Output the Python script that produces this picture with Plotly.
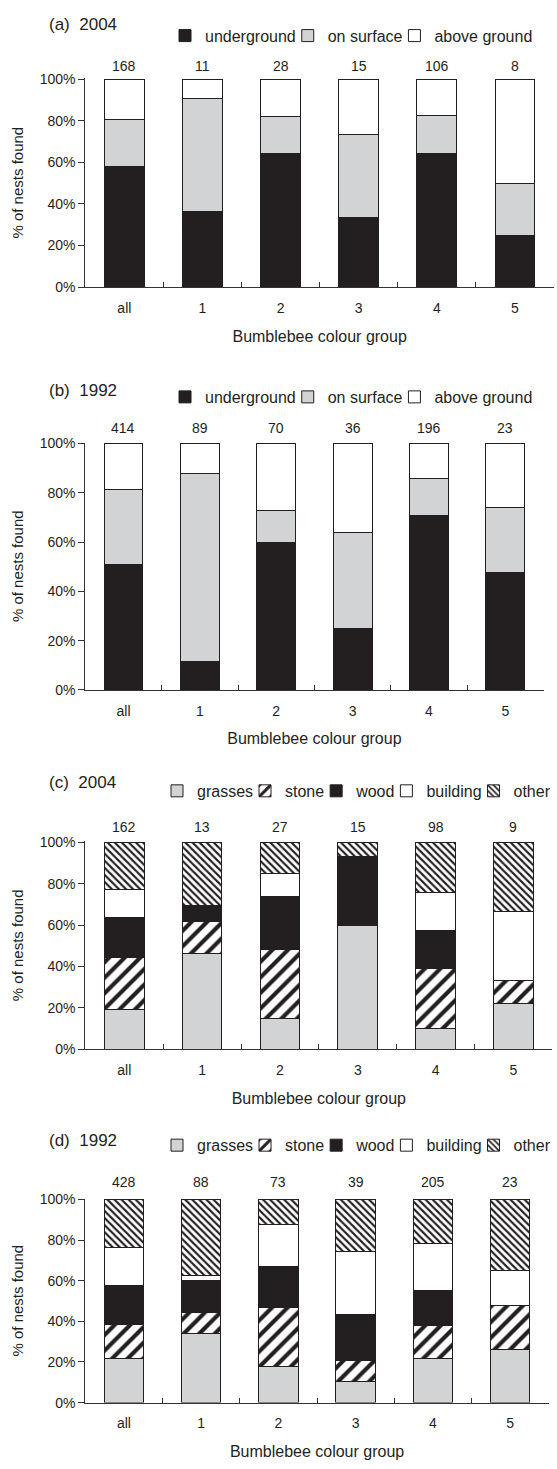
import plotly.graph_objects as go

W, H = 557, 1469

categories = ["all", "1", "2", "3", "4", "5"]

# Panel (a) 2004 - nest position (% of nests in each group)
a_counts = [168, 11, 28, 15, 106, 8]
a_underground = [57.8, 36.4, 64.3, 33.3, 64.2, 25.0]
a_on_surface = [22.6, 54.5, 17.9, 40.0, 18.4, 25.0]
a_above_ground = [19.6, 9.1, 17.8, 26.7, 17.4, 50.0]

# Panel (b) 1992 - nest position
b_counts = [414, 89, 70, 36, 196, 23]
b_underground = [51.1, 11.5, 60.0, 25.0, 70.9, 47.8]
b_on_surface = [30.2, 76.5, 12.9, 38.9, 14.8, 26.1]
b_above_ground = [18.7, 12.0, 27.1, 36.1, 14.3, 26.1]

# Panel (c) 2004 - nest location
c_counts = [162, 13, 27, 15, 98, 9]
c_grasses = [19.0, 46.2, 14.8, 60.0, 10.2, 22.2]
c_stone = [25.1, 15.4, 33.3, 0.0, 28.6, 11.1]
c_wood = [19.4, 7.7, 25.9, 33.3, 18.6, 0.0]
c_building = [13.9, 0.0, 11.1, 0.0, 18.4, 33.3]
c_other = [22.6, 30.7, 14.9, 6.7, 24.2, 33.4]

# Panel (d) 1992 - nest location
d_counts = [428, 88, 73, 39, 205, 23]
d_grasses = [21.8, 34.1, 17.8, 10.3, 21.5, 26.1]
d_stone = [16.7, 10.2, 28.8, 10.2, 16.5, 21.7]
d_wood = [19.1, 15.9, 20.5, 23.1, 17.1, 0.0]
d_building = [19.0, 2.3, 20.6, 30.8, 23.4, 17.4]
d_other = [23.4, 37.5, 12.3, 25.6, 21.5, 34.8]

y_tick_vals = [0, 20, 40, 60, 80, 100]
y_tick_text = ["0%", "20%", "40%", "60%", "80%", "100%"]

panel_titles = ["(a)\u00a0\u00a02004", "(b)\u00a0\u00a01992", "(c)\u00a0\u00a02004", "(d)\u00a0\u00a01992"]
x_title = "Bumblebee colour group"
y_title = "% of nests found"

BLACK = "#231f20"
GRAY = "#d1d3d4"
AXIS = "#333333"
FONT = "Liberation Sans, Arial, sans-serif"
LEGEND_SIZE = 16

# approximate Arial/Liberation advance widths (per 1000 em) for legend entry sizing
_CW = {"a": 556, "b": 556, "c": 500, "d": 556, "e": 556, "f": 278, "g": 556, "h": 556,
       "i": 222, "l": 222, "n": 556, "o": 556, "p": 556, "r": 333, "s": 500, "t": 278,
       "u": 556, "w": 722, "v": 500, " ": 278}


def text_width(s, size):
    return sum(_CW.get(ch, 556) for ch in s) * size / 1000.0


def px_x(p):
    return p / W


def px_y(p):
    return 1 - p / H


# geometry of each panel (pixels)
panels = [
    dict(x0=85.3, x1=554.0, y0=72, y1=283, title_y=18, leg_x=540, leg_y=29, cnt_shift=3),
    dict(x0=85.3, x1=543.5, y0=440, y1=690, title_y=387, leg_x=540, leg_y=394, cnt_shift=5),
    dict(x0=85.3, x1=552.4, y0=843, y1=1053, title_y=783, leg_x=557, leg_y=792, cnt_shift=5),
    dict(x0=85.3, x1=548.8, y0=1204, y1=1410, title_y=1145, leg_x=557, leg_y=1150, cnt_shift=8),
]

styles = {
    "underground": dict(color=BLACK),
    "on surface": dict(color=GRAY),
    "above ground": dict(color="white"),
    "grasses": dict(color=GRAY),
    "stone": dict(color="white", pattern=dict(shape="/", fgcolor=BLACK, bgcolor="white", fgopacity=1,
                                              size=11, solidity=0.38, fillmode="replace")),
    "wood": dict(color=BLACK),
    "building": dict(color="white"),
    "other": dict(color="white", pattern=dict(shape="\\", fgcolor=BLACK, bgcolor="white", fgopacity=1,
                                              size=5, solidity=0.42, fillmode="replace")),
}

series = [
    [("underground", a_underground), ("on surface", a_on_surface), ("above ground", a_above_ground)],
    [("underground", b_underground), ("on surface", b_on_surface), ("above ground", b_above_ground)],
    [("grasses", c_grasses), ("stone", c_stone), ("wood", c_wood), ("building", c_building), ("other", c_other)],
    [("grasses", d_grasses), ("stone", d_stone), ("wood", d_wood), ("building", d_building), ("other", d_other)],
]
counts = [a_counts, b_counts, c_counts, d_counts]

fig = go.Figure()
layout = dict(
    width=W, height=H, autosize=False,
    margin=dict(l=0, r=0, t=0, b=0),
    paper_bgcolor="white", plot_bgcolor="white",
    barmode="stack", bargap=0.49,
    font=dict(family=FONT, size=14, color=BLACK),
    hovermode=False,
    annotations=[],
)

for i, (p, ser, cnt) in enumerate(zip(panels, series, counts)):
    n = "" if i == 0 else str(i + 1)
    xa, ya = "x" + n, "y" + n
    leg = "legend" + n
    for k, (name, vals) in enumerate(ser):
        st = styles[name]
        marker = dict(color=st["color"], line=dict(color=BLACK, width=1))
        if "pattern" in st:
            marker["pattern"] = st["pattern"]
        tw = text_width(name, LEGEND_SIZE)
        lw = tw + 2 if k == len(ser) - 1 else tw - 13
        fig.add_trace(go.Bar(x=categories, y=vals, name=name, marker=marker,
                             xaxis=xa, yaxis=ya, legend=leg, showlegend=True,
                             legendwidth=lw))
    layout["xaxis" + n] = dict(
        domain=[px_x(p["x0"]), px_x(p["x1"])], anchor=ya,
        type="category", categoryorder="array", categoryarray=categories,
        tickson="boundaries", ticks="inside", ticklen=5, tickcolor=AXIS,
        showline=True, linecolor=AXIS, linewidth=1, showgrid=False, zeroline=False,
        tickfont=dict(size=14), ticklabelstandoff=8,
        title=dict(text=x_title, font=dict(size=16), standoff=15),
    )
    layout["yaxis" + n] = dict(
        domain=[px_y(p["y1"]), px_y(p["y0"])], anchor=xa,
        range=[0, 100.4], tickmode="array", tickvals=y_tick_vals, ticktext=y_tick_text,
        ticks="outside", ticklen=6, tickcolor=AXIS,
        showline=True, linecolor=AXIS, linewidth=1, showgrid=False, zeroline=False,
        tickfont=dict(size=14),
        title=dict(text=y_title, font=dict(size=15), standoff=12),
    )
    layout[leg] = dict(
        orientation="h", xanchor="right", x=px_x(p["leg_x"]), yanchor="middle", y=px_y(p["leg_y"]),
        font=dict(size=LEGEND_SIZE), traceorder="normal", bgcolor="rgba(0,0,0,0)",
        itemclick=False, itemdoubleclick=False,
    )
    layout["annotations"].append(dict(
        text=panel_titles[i], xref="paper", yref="paper", x=px_x(47), y=px_y(p["title_y"]),
        xanchor="left", yanchor="middle", showarrow=False, font=dict(size=17),
    ))
    for c, v in zip(categories, cnt):
        layout["annotations"].append(dict(
            text=str(v), xref=xa, yref=ya, x=c, y=100, xanchor="center", yanchor="bottom",
            yshift=p["cnt_shift"], showarrow=False, font=dict(size=14),
        ))

fig.update_layout(**layout)
fig.write_html("out.html", config={"displayModeBar": False, "staticPlot": True},
               post_script="document.body.style.margin='0px';")
